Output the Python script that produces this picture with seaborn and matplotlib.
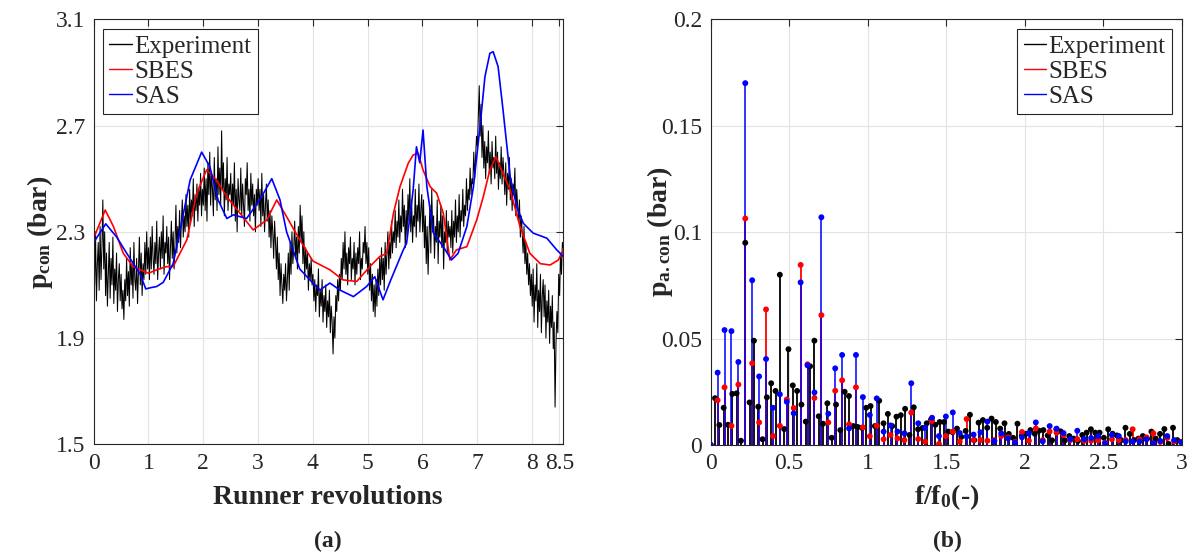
import numpy as np
import pandas as pd
import matplotlib
matplotlib.use("Agg")
import matplotlib.pyplot as plt
import seaborn as sns
from matplotlib.lines import Line2D

# ---------------- data: left panel (time signals) ----------------
exp_p = [
    2.22, 2.10, 2.30, 2.04, 2.18, 2.26, 2.08, 2.32, 2.12, 2.24, 2.42, 2.16, 2.30, 2.06, 2.22,
    2.02, 2.14, 2.26, 2.05, 2.20, 2.10, 2.28, 2.03, 2.16, 2.08, 2.22, 2.00, 2.12, 2.18, 2.04,
    2.14, 2.01, 2.08, 1.97, 2.12, 2.04, 2.20, 2.06, 2.15, 2.02, 2.24, 2.10, 2.18, 2.05, 2.26,
    2.12, 2.08, 2.20, 2.03, 2.16, 2.28, 2.10, 2.22, 2.06, 2.18, 2.12, 2.26, 2.14, 2.30, 2.16,
    2.24, 2.12, 2.28, 2.16, 2.32, 2.20, 2.14, 2.26, 2.18, 2.34, 2.12, 2.22, 2.28, 2.16, 2.30,
    2.20, 2.36, 2.14, 2.26, 2.22, 2.32, 2.18, 2.28, 2.12, 2.24, 2.34, 2.20, 2.30, 2.16, 2.26,
    2.40, 2.22, 2.32, 2.26, 2.38, 2.24, 2.34, 2.42, 2.28, 2.36, 2.30, 2.44, 2.32, 2.40, 2.28,
    2.46, 2.34, 2.42, 2.36, 2.50, 2.32, 2.44, 2.38, 2.48, 2.34, 2.46, 2.40, 2.52, 2.36, 2.46,
    2.40, 2.54, 2.38, 2.50, 2.34, 2.56, 2.44, 2.60, 2.40, 2.52, 2.46, 2.36, 2.58, 2.42, 2.50,
    2.38, 2.62, 2.44, 2.54, 2.40, 2.68, 2.46, 2.56, 2.36, 2.50, 2.42, 2.58, 2.38, 2.48, 2.44,
    2.52, 2.36, 2.48, 2.40, 2.56, 2.34, 2.46, 2.30, 2.50, 2.42, 2.38, 2.54, 2.36, 2.48, 2.40,
    2.32, 2.50, 2.44, 2.56, 2.38, 2.46, 2.34, 2.52, 2.40, 2.48, 2.36, 2.44, 2.30, 2.46, 2.40,
    2.50, 2.38, 2.46, 2.32, 2.52, 2.36, 2.44, 2.30, 2.40, 2.48, 2.34, 2.42, 2.28, 2.38, 2.24,
    2.36, 2.30, 2.20, 2.34, 2.26, 2.16, 2.28, 2.12, 2.22, 2.06, 2.18, 2.10, 2.03, 2.14, 2.08,
    2.18, 2.04, 2.12, 2.22, 2.08, 2.26, 2.14, 2.30, 2.18, 2.24, 2.34, 2.20, 2.28, 2.16, 2.32,
    2.22, 2.40, 2.26, 2.36, 2.18, 2.30, 2.12, 2.24, 2.16, 2.22, 2.08, 2.18, 2.12, 2.20, 2.10,
    2.14, 2.04, 2.12, 2.00, 2.10, 2.06, 2.16, 1.98, 2.08, 2.02, 2.12, 1.96, 2.06, 2.00, 2.10,
    1.94, 2.04, 1.98, 2.08, 1.92, 2.02, 1.96, 1.84, 1.98, 1.90, 2.06, 2.00, 2.12, 2.04, 2.14,
    2.08, 2.20, 2.12, 2.26, 2.16, 2.30, 2.14, 2.22, 2.10, 2.24, 2.18, 2.28, 2.12, 2.20, 2.16,
    2.26, 2.10, 2.22, 2.14, 2.24, 2.18, 2.30, 2.12, 2.20, 2.16, 2.26, 2.22, 2.32, 2.18, 2.26,
    2.14, 2.24, 2.08, 2.18, 2.04, 2.14, 2.00, 2.10, 1.98, 2.12, 2.02, 2.16, 2.06, 2.20, 2.10,
    2.24, 2.12, 2.20, 2.08, 2.26, 2.14, 2.22, 2.30, 2.16, 2.26, 2.20, 2.34, 2.22, 2.30, 2.26,
    2.38, 2.24, 2.34, 2.28, 2.42, 2.26, 2.36, 2.30, 2.46, 2.32, 2.40, 2.24, 2.38, 2.28, 2.44,
    2.34, 2.50, 2.30, 2.42, 2.26, 2.36, 2.32, 2.46, 2.28, 2.40, 2.34, 2.48, 2.30, 2.38, 2.44,
    2.30, 2.42, 2.24, 2.36, 2.18, 2.32, 2.14, 2.28, 2.40, 2.22, 2.46, 2.30, 2.36, 2.20, 2.32,
    2.26, 2.42, 2.18, 2.34, 2.28, 2.40, 2.24, 2.36, 2.16, 2.30, 2.26, 2.38, 2.22, 2.34, 2.28,
    2.32, 2.24, 2.38, 2.22, 2.34, 2.28, 2.42, 2.26, 2.36, 2.30, 2.44, 2.28, 2.38, 2.34, 2.46,
    2.32, 2.40, 2.36, 2.50, 2.38, 2.46, 2.42, 2.54, 2.44, 2.50, 2.48, 2.60, 2.50, 2.58, 2.66,
    2.62, 2.74, 2.85, 2.66, 2.78, 2.58, 2.70, 2.54, 2.64, 2.50, 2.62, 2.56, 2.68, 2.52, 2.60,
    2.48, 2.64, 2.54, 2.58, 2.50, 2.66, 2.52, 2.60, 2.46, 2.56, 2.50, 2.62, 2.48, 2.58, 2.52,
    2.44, 2.56, 2.40, 2.52, 2.46, 2.58, 2.42, 2.50, 2.38, 2.48, 2.44, 2.54, 2.36, 2.46, 2.40,
    2.34, 2.42, 2.28, 2.36, 2.30, 2.22, 2.32, 2.18, 2.26, 2.14, 2.22, 2.10, 2.18, 2.06, 2.14,
    2.02, 2.16, 1.96, 2.10, 2.04, 2.18, 1.94, 2.08, 2.00, 2.14, 1.92, 2.06, 2.12, 1.98, 2.10,
    1.90, 2.04, 1.96, 2.08, 1.88, 2.02, 1.94, 2.06, 1.86, 1.96, 1.64, 1.88, 2.00, 1.92, 2.14,
    2.06, 2.22, 2.14, 2.26, 2.24,
]
exp_rev_end = 8.57

sbes_rev = [0, 0.21, 0.36, 0.54, 0.72, 0.85, 1.0, 1.15, 1.33, 1.45, 1.70, 1.88, 2.06, 2.24,
            2.43, 2.67, 2.91, 3.16, 3.34, 3.52, 3.76, 4.0, 4.31, 4.55, 4.8, 5.04, 5.22, 5.35,
            5.47, 5.59, 5.74, 5.83, 5.92, 6.01, 6.14, 6.26, 6.38, 6.5, 6.62, 6.81, 6.99, 7.11,
            7.23, 7.34, 7.44, 7.6, 7.78, 7.96, 8.15, 8.33, 8.48, 8.57]
sbes_p = [2.276, 2.382, 2.32, 2.219, 2.169, 2.157, 2.144, 2.157, 2.169, 2.169, 2.27, 2.445,
          2.533, 2.495, 2.432, 2.37, 2.307, 2.345, 2.42, 2.357, 2.27, 2.19, 2.157, 2.119,
          2.113, 2.169, 2.207, 2.219, 2.37, 2.47, 2.558, 2.589, 2.596, 2.533, 2.47, 2.445,
          2.37, 2.194, 2.232, 2.244, 2.345, 2.432, 2.533, 2.583, 2.533, 2.458, 2.32, 2.219,
          2.18, 2.175, 2.194, 2.232]

sas_rev = [0, 0.22, 0.42, 0.6, 0.85, 0.95, 1.05, 1.15, 1.27, 1.45, 1.58, 1.76, 1.97, 2.12,
           2.27, 2.43, 2.55, 2.79, 3.03, 3.25, 3.4, 3.52, 3.76, 4.0, 4.13, 4.31, 4.49, 4.74,
           4.98, 5.13, 5.28, 5.41, 5.65, 5.71, 5.83, 5.89, 5.95, 6.01, 6.08, 6.2, 6.38, 6.53,
           6.65, 6.81, 6.93, 7.05, 7.14, 7.23, 7.29, 7.38, 7.47, 7.6, 7.72, 7.84, 8.02, 8.27,
           8.45, 8.57]
sas_p = [2.26, 2.33, 2.28, 2.22, 2.14, 2.085, 2.09, 2.094, 2.11, 2.18, 2.31, 2.495, 2.60,
         2.545, 2.42, 2.35, 2.364, 2.35, 2.42, 2.50, 2.42, 2.30, 2.16, 2.107, 2.081, 2.107,
         2.081, 2.056, 2.094, 2.131, 2.044, 2.113, 2.232, 2.257, 2.458, 2.62, 2.56, 2.683,
         2.47, 2.295, 2.244, 2.194, 2.219, 2.32, 2.47, 2.696, 2.884, 2.972, 2.978, 2.922,
         2.759, 2.508, 2.395, 2.332, 2.295, 2.276, 2.232, 2.207]

# ---------------- data: right panel (spectra) ----------------
exp_df = 0.02752   # frequency resolution, experiment
sim_df = 0.04406   # frequency resolution, simulations
exp_amp = [
    0.0, 0.022, 0.0094, 0.0175, 0.0095, 0.024, 0.0243, 0.002, 0.095, 0.020,
    0.049, 0.018, 0.0027, 0.0224, 0.029, 0.0254, 0.080, 0.0075, 0.045, 0.028,
    0.0254, 0.019, 0.011, 0.037, 0.049, 0.0135, 0.010, 0.0196, 0.0034, 0.019,
    0.007, 0.025, 0.023, 0.0089, 0.0085, 0.0081, 0.0175, 0.0183, 0.0089, 0.0208,
    0.0102, 0.0146, 0.0089, 0.0133, 0.014, 0.017, 0.0047, 0.0177, 0.0074, 0.008,
    0.0102, 0.012, 0.0095, 0.0108, 0.0108, 0.0063, 0.006, 0.0077, 0.0038, 0.0066,
    0.0142, 0.0023, 0.0105, 0.0117, 0.0081, 0.0124, 0.0108, 0.0077, 0.0102, 0.0052,
    0.0034, 0.010, 0.0044, 0.0053, 0.007, 0.0053, 0.0067, 0.007, 0.0045, 0.0022,
    0.0074, 0.0064, 0.0022, 0.0042, 0.003, 0.0019, 0.0047, 0.0058, 0.0074, 0.0058,
    0.0058, 0.0034, 0.0074, 0.0053, 0.0045, 0.0023, 0.0081, 0.0052, 0.0023, 0.003,
    0.0042, 0.003, 0.0063, 0.003, 0.0052, 0.0075, 0.0005, 0.0081, 0.0023,
]
sbes_amp = [
    0.0, 0.021, 0.0271, 0.009, 0.0284, 0.1064, 0.0384, 0.0106, 0.0637, 0.0042,
    0.009, 0.0214, 0.0174, 0.0846, 0.0379, 0.0221, 0.061, 0.0106, 0.0255, 0.0304,
    0.0097, 0.0271, 0.0083, 0.0041, 0.009, 0.0027, 0.0047, 0.0031, 0.0023, 0.0152,
    0.0028, 0.0016, 0.0113, 0.0005, 0.0042, 0.0063, 0.0016, 0.0122, 0.0023, 0.0023,
    0.002, 0.0023, 0.0042, 0.0036, 0.0014, 0.0061, 0.002, 0.0078, 0.0023, 0.0063,
    0.0058, 0.0047, 0.0023, 0.0027, 0.002, 0.002, 0.0022, 0.0011, 0.0027, 0.0023,
    0.0023, 0.0074, 0.0027, 0.0036, 0.0055, 0.0014, 0.0033, 0.0017, 0.0014,
]
sas_amp = [
    0.0, 0.034, 0.054, 0.0535, 0.039, 0.170, 0.0774, 0.0322, 0.0404, 0.0175,
    0.0238, 0.0203, 0.0149, 0.0764, 0.0374, 0.0247, 0.107, 0.0147, 0.036, 0.0423,
    0.0078, 0.0423, 0.0225, 0.0141, 0.0219, 0.0063, 0.0092, 0.0063, 0.0055, 0.029,
    0.0102, 0.0081, 0.0128, 0.0042, 0.0134, 0.0153, 0.0056, 0.004, 0.0049, 0.006,
    0.011, 0.0019, 0.0055, 0.0031, 0.0011, 0.0036, 0.0055, 0.0106, 0.0017, 0.0089,
    0.0077, 0.0056, 0.0028, 0.0067, 0.0028, 0.0033, 0.0042, 0.0008, 0.0047, 0.0042,
    0.0017, 0.0017, 0.0017, 0.0027, 0.0008, 0.0019, 0.0042, 0.0023, 0.0013,
]

series_names = ["Experiment", "SBES", "SAS"]
colors = {"Experiment": "#000000", "SBES": "#ff0000", "SAS": "#0000ff"}

left_xticks = [0, 1, 2, 3, 4, 5, 6, 7, 8, 8.5]
left_yticks = [1.5, 1.9, 2.3, 2.7, 3.1]
right_xticks = [0, 0.5, 1, 1.5, 2, 2.5, 3]
right_yticks = [0, 0.05, 0.1, 0.15, 0.2]

# ---------------- style ----------------
sns.set_theme(style="whitegrid")
dark = "#262626"
plt.rcParams.update({
    "font.family": ["Liberation Serif", "DejaVu Serif"],
    "mathtext.fontset": "custom",
    "mathtext.rm": "Liberation Serif",
    "mathtext.bf": "Liberation Serif:bold",
    "mathtext.it": "Liberation Serif:italic",
    "axes.edgecolor": dark,
    "axes.linewidth": 0.8,
    "grid.color": "#e3e3e3",
    "grid.linewidth": 0.8,
    "xtick.color": dark,
    "ytick.color": dark,
    "text.color": dark,
})

fig = plt.figure(figsize=(11.92, 5.55), dpi=100)
W, H = 1192.0, 555.0
ax1 = fig.add_axes([93.7 / W, 1 - 444.3 / H, 469.6 / W, 425.0 / H])
ax2 = fig.add_axes([710.7 / W, 1 - 445.0 / H, 471.0 / W, 425.7 / H])

# ---------------- left panel ----------------
t_exp = np.linspace(0, exp_rev_end, len(exp_p))
df_l = pd.concat([
    pd.DataFrame({"rev": t_exp, "p": exp_p, "case": "Experiment"}),
    pd.DataFrame({"rev": sbes_rev, "p": sbes_p, "case": "SBES"}),
    pd.DataFrame({"rev": sas_rev, "p": sas_p, "case": "SAS"}),
])
for name, lw in zip(series_names, [0.75, 1.2, 1.2]):
    sns.lineplot(data=df_l[df_l["case"] == name], x="rev", y="p", ax=ax1,
                 color=colors[name], lw=lw, estimator=None, sort=False,
                 legend=False)
ax1.set_xlim(0, 8.57)
ax1.set_ylim(1.5, 3.1)
ax1.set_xticks(left_xticks)
ax1.set_xticklabels([f"{v:g}" for v in left_xticks])
ax1.set_yticks(left_yticks)
ax1.set_yticklabels([f"{v:g}" for v in left_yticks])

# ---------------- right panel ----------------
f_exp = np.arange(len(exp_amp)) * exp_df
f_sim = np.arange(len(sas_amp)) * sim_df
df_r = pd.concat([
    pd.DataFrame({"f": f_exp, "a": exp_amp, "case": "Experiment"}),
    pd.DataFrame({"f": f_sim, "a": sbes_amp, "case": "SBES"}),
    pd.DataFrame({"f": f_sim, "a": sas_amp, "case": "SAS"}),
])
for name in series_names:
    d = df_r[df_r["case"] == name]
    ax2.vlines(d["f"], 0, d["a"], color=colors[name], lw=1.3,
               alpha=0.85 if name == "SAS" else 1.0, zorder=2)
    sns.scatterplot(data=d, x="f", y="a", ax=ax2, color=colors[name], s=18,
                    edgecolor="none", legend=False, zorder=3)
ax2.set_xlim(0, 3)
ax2.set_ylim(0, 0.2)
ax2.set_xticks(right_xticks)
ax2.set_xticklabels([f"{v:g}" for v in right_xticks])
ax2.set_yticks(right_yticks)
ax2.set_yticklabels([f"{v:g}" for v in right_yticks])

# ---------------- common axis styling ----------------
handles = [Line2D([], [], color=colors[n], lw=1.0) for n in series_names]
for ax in (ax1, ax2):
    ax.set_xlabel("")
    ax.set_ylabel("")
    ax.grid(True)
    for s in ax.spines.values():
        s.set_visible(True)
        s.set_color(dark)
        s.set_linewidth(0.8)
    ax.tick_params(axis="both", which="both", direction="in", length=5,
                   width=0.8, top=True, right=True, labelsize=17, pad=6,
                   color=dark)

leg1 = ax1.legend(handles, series_names, loc="upper left",
                  bbox_to_anchor=(0.02, 0.977), borderaxespad=0,
                  fontsize=18, frameon=True, fancybox=False, framealpha=1,
                  edgecolor=dark, handlelength=0.9, handletextpad=0.1,
                  labelspacing=0.1, borderpad=0.25)
leg1.get_frame().set_linewidth(0.8)
leg2 = ax2.legend(handles, series_names, loc="upper right",
                  bbox_to_anchor=(0.979, 0.977), borderaxespad=0,
                  fontsize=18, frameon=True, fancybox=False, framealpha=1,
                  edgecolor=dark, handlelength=0.9, handletextpad=0.1,
                  labelspacing=0.1, borderpad=0.25)
leg2.get_frame().set_linewidth(0.8)

# labels
fig.text(328 / W, 1 - 497 / H, "Runner revolutions", ha="center", va="center",
         fontsize=20, fontweight="bold")
fig.text(947 / W, 1 - 497 / H, r"$\mathbf{f/f_0}$(-)", ha="center", va="center",
         fontsize=20, fontweight="bold")
fig.text(40 / W, 1 - 232 / H, r"$\mathbf{p_{con}}$ (bar)", ha="center", va="center",
         rotation=90, fontsize=20, fontweight="bold")
fig.text(660 / W, 1 - 232 / H, r"$\mathbf{p_{a.con}}$ (bar)", ha="center", va="center",
         rotation=90, fontsize=20, fontweight="bold")
fig.text(328 / W, 1 - 541 / H, "(a)", ha="center", va="center",
         fontsize=17, fontweight="bold")
fig.text(947 / W, 1 - 541 / H, "(b)", ha="center", va="center",
         fontsize=17, fontweight="bold")

fig.savefig("out.png", dpi=100)
